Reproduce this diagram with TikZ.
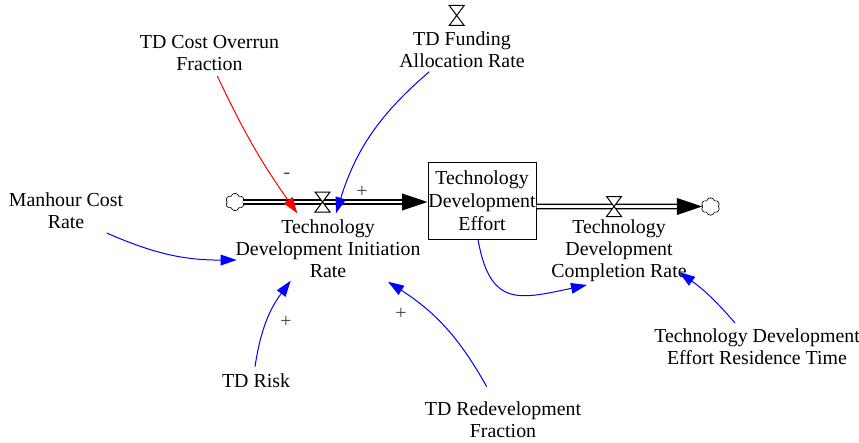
\documentclass[tikz,border=0pt]{standalone}
\usepackage{fontspec}
\setmainfont{Liberation Serif}
\usetikzlibrary{arrows.meta,calc,shapes.symbols}
\begin{document}
\begin{tikzpicture}[x=0.75pt,y=0.75pt,
lbl/.style={align=center,inner sep=0pt,font=\fontsize{14.9}{16.5}\selectfont},
sgn/.style={inner sep=0pt,text=black!75,font=\fontsize{14.9}{16.5}\selectfont},
lnk/.style={blue,line width=0.75pt,-{Triangle[length=12pt,width=8pt]}},
pipe/.style={draw=black,line width=1.1pt,double=white,double distance=2.2pt,-{Triangle[length=19pt,width=12.5pt]}},
puff/.style={cloud,draw,cloud puffs=6,aspect=1.1,minimum width=14pt,minimum height=13pt,inner sep=0pt,line width=0.5pt},
valve/.pic={\filldraw[fill=white,line width=0.75pt](-7.5,10)--(7.5,10)--(-7.5,-10)--(7.5,-10)--cycle;}]
\useasboundingbox(0,0)rectangle(859,-442);
\node[draw,lbl,line width=0.75pt,minimum width=81pt,minimum height=57.75pt,font=\fontsize{14.9}{17.25}\selectfont](stock)at(482,-200.5){Technology\\Development\\Effort};
\node[puff](cloudL)at(235,-202){};
\node[puff](cloudR)at(710.5,-206.5){};
\draw[pipe](cloudL.east)--(cloudL.east-|stock.west);
\draw[pipe](stock.east|-cloudR)--(cloudR.west);
\pic at(322.5,-202){valve};
\pic at(614,-206.5){valve};
\pic at(456.7,-15.5){valve};
\node[lbl](cost)at(209.5,-53){TD Cost Overrun\\Fraction};
\node[lbl](fund)at(462,-49.5){TD Funding\\Allocation Rate};
\node[lbl](manh)at(66,-211){Manhour Cost\\Rate};
\node[lbl](irate)at(328,-248.5){Technology\\Development Initiation\\Rate};
\node[lbl](crate)at(619,-250.5){Technology\\Development\\Completion Rate};
\node[lbl](risk)at(256,-381){TD Risk};
\node[lbl](redev)at(503,-419.5){TD Redevelopment\\Fraction};
\node[lbl](resid)at(757,-346.5){Technology Development\\Effort Residence Time};
\draw[lnk,red]($(cost)+(7.8,-23)$)to[bend right=5]($(irate)+(-30.7,35.2)$);
\draw[lnk]($(fund)+(-32.7,-22.2)$)to[bend right=16]($(irate)+(8,35.2)$);
\draw[lnk]($(manh)+(40.7,-22)$)to[bend right=12]($(irate)+(-91.3,-11.5)$);
\draw[lnk]($(risk)+(-1,14.3)$)to[bend left=14]($(irate)+(-37.3,-32.2)$);
\draw[lnk]($(redev)+(-16.3,32.8)$)to[bend right=14]($(irate)+(60,-33.2)$);
\draw[lnk]($(stock.south)+(-4,0)$)to[out=-80,in=192,looseness=1.5]($(crate)+(-32,-34.5)$);
\draw[lnk]($(resid)+(-22,23.5)$)to[bend right=7]($(crate)+(60,-21.5)$);
\node[sgn](sgnC)at(287,-176){-};
\node[sgn](sgnF)at(362,-192){+};
\node[sgn](sgnR)at(286,-322){+};
\node[sgn](sgnD)at(401,-314){+};
\end{tikzpicture}
\end{document}
